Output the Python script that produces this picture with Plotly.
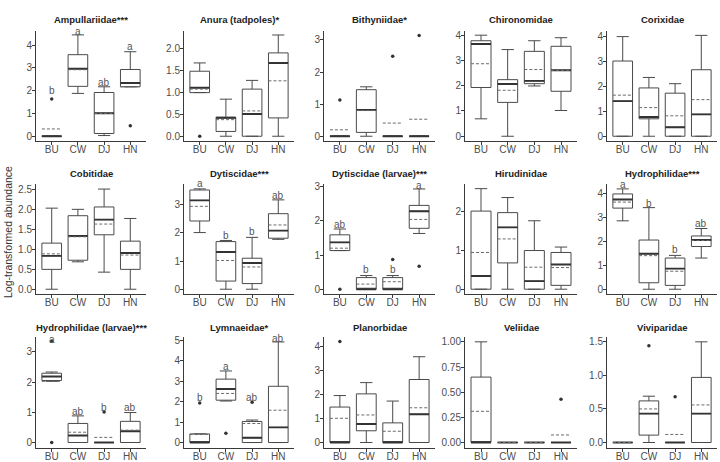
import plotly.graph_objects as go

GROUPS = ["BU", "CW", "DJ", "HN"]
TITLES = ["Ampullariidae***", "Anura (tadpoles)*", "Bithyniidae*", "Chironomidae", "Corixidae",
          "Cobitidae", "Dytiscidae***", "Dytiscidae (larvae)***", "Hirudinidae", "Hydrophilidae***",
          "Hydrophilidae (larvae)***", "Lymnaeidae*", "Planorbidae", "Veliidae", "Viviparidae"]

# per panel: values for BU, CW, DJ, HN
Q1 = [[0, 2.19, 0.12, 2.17], [1.0, 0.11, 0.0, 0.42], [0, 0.12, 0, 0], [1.93, 1.34, 2.08, 1.78], [0, 0.70, 0, 0],
      [0.5, 0.73, 1.37, 0.5], [2.42, 0.29, 0.2, 1.81], [1.13, 0, 0, 1.78], [0, 0.68, 0, 0.1], [3.38, 0.27, 0.16, 1.78],
      [2.05, 0, 0, 0], [0, 2.07, 0, 0], [0, 0.49, 0, 0], [0, 0, 0, 0], [0, 0.11, 0, 0]]
MEDIAN = [[0, 2.96, 1.01, 2.34], [1.11, 0.42, 0.51, 1.68], [0, 0.82, 0, 0], [3.65, 2.07, 2.19, 2.61], [1.41, 0.77, 0.36, 0.88],
          [0.84, 1.34, 1.75, 0.91], [3.15, 1.32, 0.93, 2.08], [1.37, 0, 0, 2.28], [0.34, 1.6, 0.21, 0.64], [3.74, 1.48, 0.86, 2.05],
          [2.18, 0.23, 0, 0.37], [0, 2.62, 0.23, 0.74], [0, 0.77, 0, 1.18], [0, 0, 0, 0], [0, 0.43, 0, 0.43]]
Q3 = [[0, 3.58, 1.92, 2.93], [1.49, 0.44, 1.08, 1.91], [0, 1.45, 0, 0], [3.78, 2.24, 3.36, 3.56], [3.02, 1.94, 1.73, 2.67],
      [1.16, 1.85, 2.07, 1.21], [3.52, 1.69, 1.1, 2.68], [1.59, 0.34, 0.34, 2.45], [2.02, 1.98, 1.0, 0.95], [3.97, 2.05, 1.3, 2.22],
      [2.29, 0.63, 0, 0.7], [0.42, 3.1, 1.03, 2.75], [1.48, 2.03, 0.82, 2.63], [0.65, 0, 0, 0], [0, 0.62, 0, 0.97]]
LOWER = [[0, 1.88, 0.03, 2.17], [1.0, 0, 0, 0], [0, 0, 0, 0], [0.69, 0, 1.99, 1.02], [0, 0, 0, 0],
         [0, 0.69, 0.43, 0], [2.01, 0, 0, 1.77], [1.13, 0, 0, 1.63], [0, 0, 0, 0], [2.85, 0, 0, 1.3],
         [2.02, 0, 0, 0], [0, 2.03, 0, 0], [0, 0, 0, 0], [0, 0, 0, 0], [0, 0, 0, 0]]
UPPER = [[0, 4.45, 2.17, 3.71], [1.68, 0.85, 1.28, 2.32], [0, 1.54, 0, 0], [4.0, 3.43, 3.78, 3.9], [4.0, 2.36, 2.11, 4.05],
         [2.04, 2.01, 2.52, 1.78], [3.56, 1.73, 1.84, 3.17], [1.76, 0.4, 0.4, 2.93], [2.6, 2.37, 1.77, 1.09], [4.18, 3.4, 1.41, 2.53],
         [2.33, 0.88, 0, 0.99], [0.42, 3.5, 1.1, 4.92], [1.96, 2.5, 1.73, 3.58], [1.0, 0, 0, 0], [0, 0.69, 0, 1.5]]
MEAN = [[0.32, 2.92, 1.0, 2.17], [1.08, 0.38, 0.58, 1.27], [0.2, 0.8, 0.41, 0.53], [2.87, 1.82, 2.64, 2.6], [1.65, 1.15, 0.82, 1.47],
        [0.89, 1.32, 1.64, 0.86], [2.94, 1.02, 0.79, 2.28], [1.2, 0.15, 0.22, 2.04], [0.95, 1.3, 0.57, 0.56], [3.63, 1.4, 0.75, 2.03],
        [2.02, 0.34, 0.17, 0.41], [0.39, 2.4, 0.93, 1.58], [1.01, 1.15, 0.47, 1.45], [0.31, 0, 0, 0.075], [0, 0.5, 0.12, 0.56]]
# outliers: (panel, group, value)
OUTLIER_PANEL = [0, 0, 1, 2, 2, 2, 7, 7, 7, 10, 10, 10, 11, 11, 11, 12, 13, 14, 14]
OUTLIER_GROUP = [0, 3, 0, 0, 2, 3, 0, 2, 3, 0, 0, 2, 0, 1, 2, 0, 3, 1, 2]
OUTLIER_VALUE = [1.63, 0.46, 0.0, 1.13, 2.49, 3.14, 0.0, 0.87, 0.67, 0.0, 3.35, 1.01, 1.93, 0.45, 1.97, 4.22, 0.43, 1.44, 0.68]
# significance letters
LETTERS = [["b", "a", "ab", "a"], None, None, None, None,
           None, ["a", "b", "b", "ab"], ["ab", "b", "b", "a"], None, ["a", "b", "b", "ab"],
           ["a", "ab", "b", "ab"], ["b", "a", "ab", "ab"], None, None, None]
LETTER_Y = [[2.0, 4.6, 2.34, 3.93], None, None, None, None,
            None, [3.74, 1.9, 2.04, 3.33], [1.88, 0.58, 0.58, 3.02], None, [4.38, 3.59, 1.64, 2.74],
            [3.40, 1.02, 1.15, 1.15], [2.22, 3.71, 2.2, 5.11], None, None, None]

# ---- layout (pixels) ----
W, H = 720, 462
COLS = [(36, 146), (184, 294), (324, 435), (465, 577), (607, 717)]
ROWS = [(28, 140), (183, 295), (338, 451)]
TITLE_Y = [17, 173, 329]
YRANGES = [[-0.217, 4.636], [-0.113, 2.42], [-0.154, 3.29], [-0.195, 4.18], [-0.198, 4.24],
           [-0.124, 2.657], [-0.175, 3.746], [-0.144, 3.086], [-0.128, 2.73], [-0.205, 4.40],
           [-0.186, 3.50], [-0.275, 5.18], [-0.235, 4.42], [-0.056, 1.052], [-0.084, 1.578]]
DTICK = [1, 0.5, 1, 1, 1, 0.5, 1, 1, 1, 1, 1, 1, 1, 0.25, 0.5]
TFMT = [".0f", ".1f", ".0f", ".0f", ".0f", ".1f", ".0f", ".0f", ".0f", ".0f", ".0f", ".0f", ".0f", ".2f", ".1f"]

FONT = "Liberation Sans, Arial, sans-serif"
AX = "#3a3a3a"
TICKC = "#4d4d4d"
BOXC = "#4a4a4a"
BW = 0.75

fig = go.Figure()
annotations = []
xs = [1, 2, 3, 4]

for k in range(15):
    r, c = divmod(k, 5)
    sfx = "" if k == 0 else str(k + 1)
    xa, ya = "x" + sfx, "y" + sfx
    fig.add_trace(go.Box(
        x=xs, q1=Q1[k], median=MEDIAN[k], q3=Q3[k], lowerfence=LOWER[k], upperfence=UPPER[k],
        width=BW, whiskerwidth=0.62, boxpoints=False, fillcolor="white",
        line=dict(color=BOXC, width=1), xaxis=xa, yaxis=ya, hoverinfo="skip"))
    mx, my, ex, ey = [], [], [], []
    for i in range(4):
        mx += [xs[i] - BW / 2, xs[i] + BW / 2, None]
        my += [MEDIAN[k][i], MEDIAN[k][i], None]
        ex += [xs[i] - BW / 2, xs[i] + BW / 2, None]
        ey += [MEAN[k][i], MEAN[k][i], None]
    fig.add_trace(go.Scatter(x=mx, y=my, mode="lines", line=dict(color="#333333", width=1.9),
                             xaxis=xa, yaxis=ya, hoverinfo="skip"))
    fig.add_trace(go.Scatter(x=ex, y=ey, mode="lines", line=dict(color="#6a6a6a", width=1, dash="3px,2px"),
                             xaxis=xa, yaxis=ya, hoverinfo="skip"))
    ox = [xs[g] for p, g in zip(OUTLIER_PANEL, OUTLIER_GROUP) if p == k]
    oy = [v for p, v in zip(OUTLIER_PANEL, OUTLIER_VALUE) if p == k]
    if ox:
        fig.add_trace(go.Scatter(x=ox, y=oy, mode="markers", marker=dict(color="#333333", size=3.5),
                                 xaxis=xa, yaxis=ya, hoverinfo="skip"))
    if LETTERS[k]:
        for i in range(4):
            annotations.append(dict(x=xs[i], y=LETTER_Y[k][i], xref=xa, yref=ya, text=LETTERS[k][i],
                                    showarrow=False, xanchor="center", yanchor="middle", yshift=0,
                                    font=dict(family=FONT, size=10, color="#555555")))
    x0, x1 = COLS[c]
    t0, b0 = ROWS[r]
    xd = [x0 / W, x1 / W]
    yd = [1 - b0 / H, 1 - t0 / H]
    fig.layout["xaxis" + sfx] = dict(
        domain=xd, anchor=ya, range=[0.4, 4.6], tickvals=xs, ticktext=GROUPS,
        showline=True, linecolor=AX, linewidth=1, ticks="outside", ticklen=3, tickcolor=AX,
        ticklabelstandoff=-4,
        showgrid=False, zeroline=False, tickfont=dict(family=FONT, size=10, color=TICKC), fixedrange=True)
    fig.layout["yaxis" + sfx] = dict(
        domain=yd, anchor=xa, range=YRANGES[k], tick0=0, dtick=DTICK[k], tickformat=TFMT[k],
        showline=True, linecolor=AX, linewidth=1, ticks="outside", ticklen=3, tickcolor=AX,
        ticklabelstandoff=-2,
        showgrid=False, zeroline=False, tickfont=dict(family=FONT, size=10, color=TICKC), fixedrange=True)
    annotations.append(dict(x=(xd[0] + xd[1]) / 2, y=1 - TITLE_Y[r] / H, xref="paper", yref="paper",
                            text="<b>" + TITLES[k] + "</b>", showarrow=False, xanchor="center", yanchor="middle",
                            font=dict(family=FONT, size=9.5, color="#222222")))

annotations.append(dict(x=8 / W, y=1 - 232 / H, xref="paper", yref="paper", text="Log-transformed abundance",
                        textangle=-90, showarrow=False, xanchor="center", yanchor="middle",
                        font=dict(family=FONT, size=10.5, color="#333333")))

fig.update_layout(width=W, height=H, margin=dict(l=0, r=0, t=0, b=0), autosize=False,
                  paper_bgcolor="white", plot_bgcolor="white", showlegend=False,
                  annotations=annotations)
fig.write_html("out.html")
